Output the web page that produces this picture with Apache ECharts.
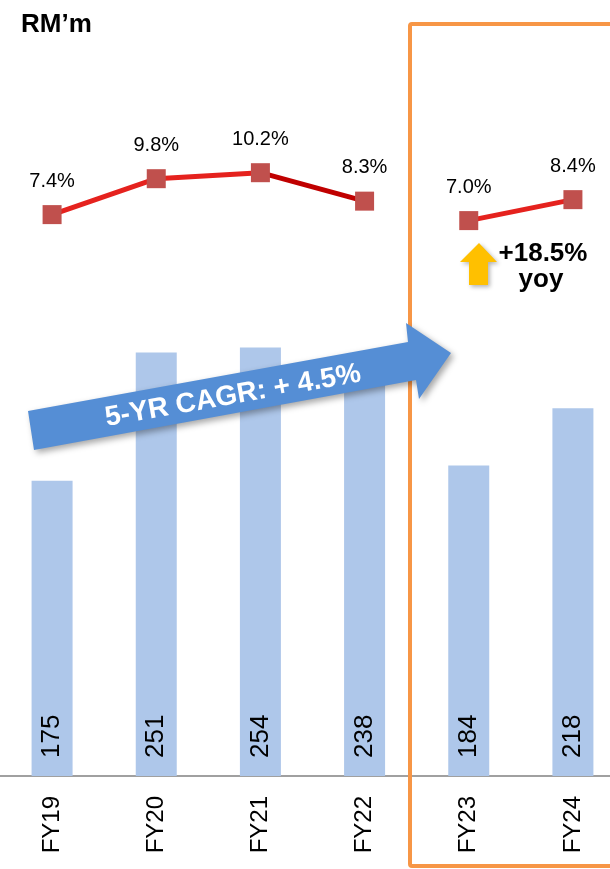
<!DOCTYPE html>
<html>
<head>
<meta charset="utf-8">
<script src="https://cdn.jsdelivr.net/npm/echarts@6/dist/echarts.min.js"></script>
<style>
  html, body { margin: 0; padding: 0; background: #fff; overflow: hidden; }
  /* the chart runs a little past the right edge of the picture, as in the original */
  #chart { width: 625px; height: 869px; }
</style>
</head>
<body>
<div id="chart"></div>
<script>
// data
const years = ['FY19', 'FY20', 'FY21', 'FY22', 'FY23', 'FY24'];
const revenue = [175, 251, 254, 238, 184, 218];   // RM'm, bars
const margin = [7.4, 9.8, 10.2, 8.3, 7.0, 8.4];   // %, line

const FONT = '"Liberation Sans", Arial, sans-serif';

// keep only the points between two indexes, so each line piece gets its own colour
function piece(from, to) {
    return margin.map(function(v, i) {
        return (i >= from && i <= to) ? v : '-';
    });
}

let chart = echarts.init(document.getElementById('chart'));

let option = {
    backgroundColor: '#fff',
    animation: false,
    grid: {
        left: 0,
        right: 0,
        top: 20,
        bottom: 93
    },
    xAxis: {
        type: 'category',
        data: years,
        axisTick: { show: false },
        axisLine: { lineStyle: { color: '#a0a0a0', width: 2 } },
        axisLabel: {
            rotate: 90,
            margin: 20,
            color: '#000',
            fontSize: 24,
            fontFamily: FONT
        }
    },
    yAxis: [{
        type: 'value',
        min: 0,
        max: 448,
        show: false,
        splitLine: { show: false }
    }, {
        type: 'value',
        min: -30.1,
        max: 20.4,
        show: false,
        splitLine: { show: false }
    }],
    series: [{
        type: 'bar',
        data: revenue,
        barWidth: 41,
        itemStyle: { color: '#aec7ea' },
        label: {
            show: true,
            position: 'insideBottom',
            distance: 18,
            rotate: 90,
            align: 'left',
            verticalAlign: 'middle',
            color: '#000',
            fontSize: 26,
            fontFamily: FONT
        },
        z: 2
    }, {
        type: 'line',
        yAxisIndex: 1,
        data: piece(0, 2),
        showSymbol: false,
        lineStyle: { color: '#e5221e', width: 5 },
        z: 3
    }, {
        type: 'line',
        yAxisIndex: 1,
        data: piece(2, 3),
        showSymbol: false,
        lineStyle: { color: '#c00000', width: 5 },
        z: 3
    }, {
        type: 'line',
        yAxisIndex: 1,
        data: piece(4, 5),
        showSymbol: false,
        lineStyle: { color: '#e5221e', width: 5 },
        z: 3
    }, {
        // square markers with the % labels
        type: 'scatter',
        yAxisIndex: 1,
        data: margin,
        symbol: 'rect',
        symbolSize: 19,
        itemStyle: { color: '#c0504d', opacity: 1 },
        label: {
            show: true,
            position: 'top',
            distance: 14,
            color: '#000',
            fontSize: 20,
            fontFamily: FONT,
            formatter: function(p) { return p.value.toFixed(1) + '%'; }
        },
        z: 4
    }],
    graphic: [{
        // orange box round the latest years
        type: 'rect',
        shape: { x: 410, y: 24, width: 260, height: 842, r: 2 },
        style: { fill: 'none', stroke: '#f79646', lineWidth: 4 },
        z: 5
    }, {
        type: 'text',
        x: 21,
        y: 25,
        style: {
            text: 'RM’m',
            fill: '#000',
            font: 'bold 26px ' + FONT,
            verticalAlign: 'middle'
        },
        z: 6
    }, {
        // big blue CAGR arrow
        type: 'polygon',
        shape: {
            points: [[34, 450], [28, 411], [408, 342], [406, 323], [451, 353], [419, 399], [416, 380]]
        },
        style: {
            fill: '#558ed5',
            shadowBlur: 6,
            shadowOffsetX: 3,
            shadowOffsetY: 3,
            shadowColor: 'rgba(0,0,0,0.35)'
        },
        z: 10
    }, {
        type: 'text',
        x: 233,
        y: 396,
        rotation: 10 * Math.PI / 180,
        style: {
            text: '5-YR CAGR: + 4.5%',
            fill: '#fff',
            font: 'bold 28px ' + FONT,
            align: 'center',
            verticalAlign: 'middle'
        },
        z: 11
    }, {
        // yellow up arrow
        type: 'polygon',
        shape: {
            points: [[479, 243], [497, 262], [488, 262], [488, 285], [469, 285], [469, 262], [460, 262]]
        },
        style: {
            fill: '#ffc000',
            shadowBlur: 4,
            shadowOffsetX: 2,
            shadowOffsetY: 2,
            shadowColor: 'rgba(0,0,0,0.3)'
        },
        z: 10
    }, {
        type: 'text',
        x: 543,
        y: 254,
        style: {
            text: '+18.5%',
            fill: '#000',
            font: 'bold 26px ' + FONT,
            align: 'center',
            verticalAlign: 'middle'
        },
        z: 11
    }, {
        type: 'text',
        x: 541,
        y: 280,
        style: {
            text: 'yoy',
            fill: '#000',
            font: 'bold 26px ' + FONT,
            align: 'center',
            verticalAlign: 'middle'
        },
        z: 11
    }]
};
chart.setOption(option);
</script>
</body>
</html>
